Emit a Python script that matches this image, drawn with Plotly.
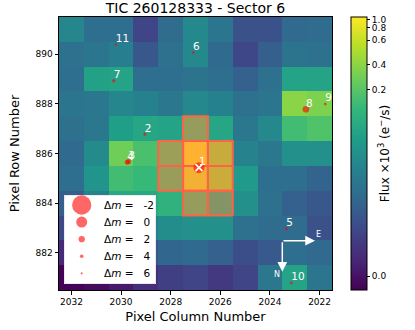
import numpy as np
import plotly.graph_objects as go

# ---------------- data ----------------
TITLE = "TIC 260128333 - Sector 6"
COLS = [2032, 2031, 2030, 2029, 2028, 2027, 2026, 2025, 2024, 2023, 2022]
ROWS = [891, 890, 889, 888, 887, 886, 885, 884, 883, 882, 881]

# median flux per pixel in e-/s (rows top->bottom, columns left->right)
FLUX = [
    [22.8, 10.0, 10.0, 2.4, 9.1, 24.7, 12.8, 3.7, 3.7, 8.4, 9.1],
    [10.9, 12.8, 17.8, 4.5, 10.9, 24.7, 8.4, 2.7, 5.9, 11.8, 10.9],
    [10.0, 54.8, 59.3, 10.0, 10.0, 11.8, 10.0, 6.4, 10.9, 59.3, 59.3],
    [12.8, 13.9, 22.8, 19.4, 13.9, 24.7, 19.4, 10.9, 12.8, 382.0, 328.0],
    [10.9, 13.9, 50.6, 64.1, 59.3, 177.0, 64.1, 13.9, 24.7, 140.0, 177.0],
    [8.4, 26.8, 282.0, 164.0, 208.0, 1070.0, 467.0, 21.0, 13.9, 31.4, 31.4],
    [10.0, 36.9, 140.0, 120.0, 192.0, 860.0, 489.0, 43.2, 10.0, 10.0, 7.0],
    [5.9, 21.0, 69.4, 69.4, 95.0, 177.0, 111.0, 31.4, 10.9, 6.4, 4.5],
    [2.7, 5.9, 13.9, 17.8, 29.0, 31.4, 31.4, 10.9, 9.1, 9.1, 3.7],
    [0.7, 1.2, 2.2, 4.5, 7.7, 8.4, 6.4, 3.3, 4.9, 10.0, 8.4],
    [-0.3, -0.15, 0.16, 0.84, 1.9, 2.4, 1.5, 2.4, 13.9, 59.3, 12.8],
]

# aperture pixels (column, row)
AP_COLS = [2027, 2028, 2027, 2026, 2028, 2027, 2026, 2027, 2026]
AP_ROWS = [887, 886, 886, 886, 885, 885, 885, 884, 884]

# Gaia sources
STAR_ID = ["1", "2", "3", "4", "5", "6", "7", "8", "9", "10", "11"]
STAR_COL = [2026.86, 2029.04, 2029.70, 2029.75, 2023.34, 2027.10, 2030.29, 2022.55, 2021.77, 2023.14, 2030.21]
STAR_ROW = [885.43, 886.78, 885.68, 885.65, 882.96, 890.07, 888.93, 887.78, 887.99, 880.79, 890.39]
STAR_DMAG = [0.0, 4.6, 2.8, 2.8, 5.0, 5.0, 4.2, 1.8, 5.0, 4.6, 5.5]

LEGEND_DMAG = [-2, 0, 2, 4, 6]
CB_TICKS = [0.0, 0.2, 0.4, 0.6, 0.8, 1.0]
XTICKS = [2022, 2024, 2026, 2028, 2030, 2032]
YTICKS = [882, 884, 886, 888, 890]

# ---------------- scales ----------------
KNOT_V = np.array([-0.0005, 0.0, 0.2, 0.4, 0.6, 0.8, 1.0, 1.07])
KNOT_F = np.array([-0.0385, 0.051, 0.735, 0.826, 0.915, 0.960, 0.991, 1.0])


def stretch(v):
    v = np.asarray(v, dtype=float)
    return np.interp(np.log1p(1000 * v), np.log1p(1000 * KNOT_V), KNOT_F)


def msize(dm):
    return 11 * 1.75 ** (-np.asarray(dm, dtype=float) / 2)


flux3 = np.array(FLUX) / 1000.0
z = stretch(flux3)

FONT = "DejaVu Sans"
W, H = 415, 330
ML, MR, MT, MB = 59, 83, 17, 40
PW, PH = W - ML - MR, H - MT - MB


def px(xp):
    return (xp - ML) / PW


def py(yp):
    return (H - MB - yp) / PH


fig = go.Figure()

fig.add_trace(go.Heatmap(
    x=COLS, y=ROWS, z=z, zmin=0, zmax=1, colorscale="Viridis",
    showscale=True, hoverinfo="skip",
    colorbar=dict(
        x=px(351), xanchor="left", xpad=0,
        y=0.5, yanchor="middle", len=1.0, lenmode="fraction", ypad=0,
        thickness=16, outlinecolor="black", outlinewidth=1,
        tickvals=list(stretch(CB_TICKS)), ticktext=[f"{t:.1f}" for t in CB_TICKS],
        ticks="outside", ticklen=3, tickcolor="black",
        tickfont=dict(family=FONT, size=9, color="black"),
        title=dict(text="Flux ×10<sup>3</sup> (e<sup>−</sup>/s)", side="right",
                   font=dict(family=FONT, size=12, color="black")),
    ),
))

# aperture
for c, r in zip(AP_COLS, AP_ROWS):
    fig.add_trace(go.Scatter(
        x=[c - 0.5, c + 0.5, c + 0.5, c - 0.5, c - 0.5],
        y=[r - 0.5, r - 0.5, r + 0.5, r + 0.5, r - 0.5],
        mode="lines", fill="toself", fillcolor="rgba(255,99,71,0.4)",
        line=dict(color="tomato", width=2), showlegend=False, hoverinfo="skip",
    ))

# stars
fig.add_trace(go.Scatter(
    x=STAR_COL, y=STAR_ROW, mode="markers",
    marker=dict(color="red", opacity=0.6, size=msize(STAR_DMAG), line=dict(width=0)),
    showlegend=False, hoverinfo="skip", cliponaxis=True,
))
# target
fig.add_trace(go.Scatter(
    x=[STAR_COL[0]], y=[STAR_ROW[0]], mode="markers",
    marker=dict(symbol="x-thin", size=7, line=dict(color="white", width=1.6)),
    showlegend=False, hoverinfo="skip",
))
# labels
fig.add_trace(go.Scatter(
    x=STAR_COL, y=STAR_ROW, mode="text", text=STAR_ID,
    textposition="top right", textfont=dict(family=FONT, size=10.5, color="white"),
    showlegend=False, hoverinfo="skip", cliponaxis=True,
))

# ---------------- legend (drawn on its own small axes) ----------------
LX0, LX1, LY0, LY1 = 64, 156, 195, 284
rad_x, rad_y = 3 / (LX1 - LX0), 3 / (LY1 - LY0)
ang = np.linspace(0, np.pi / 2, 6)
bx, by = [], []
for cx, cy, a0 in [(1 - rad_x, 1 - rad_y, 0), (rad_x, 1 - rad_y, np.pi / 2),
                   (rad_x, rad_y, np.pi), (1 - rad_x, rad_y, 1.5 * np.pi)]:
    bx += list(cx + rad_x * np.cos(a0 + ang))
    by += list(cy + rad_y * np.sin(a0 + ang))
bx.append(bx[0]); by.append(by[0])
fig.add_trace(go.Scatter(
    x=bx, y=by, xaxis="x2", yaxis="y2", mode="lines", fill="toself",
    fillcolor="rgba(255,255,255,0.8)", line=dict(color="rgba(204,204,204,0.8)", width=1),
    showlegend=False, hoverinfo="skip",
))
n = len(LEGEND_DMAG)
entry_y = [1 - (10 + 17.1 * k) / (LY1 - LY0) for k in range(n)]
fig.add_trace(go.Scatter(
    x=[(81.7 - LX0) / (LX1 - LX0)] * n, y=entry_y, xaxis="x2", yaxis="y2", mode="markers",
    marker=dict(color="red", opacity=0.6, size=msize(LEGEND_DMAG), line=dict(width=0)),
    showlegend=False, hoverinfo="skip",
))
for dm, yy in zip(LEGEND_DMAG, entry_y):
    fig.add_annotation(x=(101.5 - LX0) / (LX1 - LX0), y=yy, xref="x2", yref="y2",
                       text=f"Δ<i>m</i> =\u00a0\u00a0\u00a0{dm}", showarrow=False,
                       xanchor="left", yanchor="middle",
                       font=dict(family=FONT, size=10.5, color="black"))

# compass
for (hx, hy, ax, ay) in [(px(315), py(240.7), -33, 0), (px(282.3), py(271.7), 0, -31)]:
    fig.add_annotation(x=hx, y=hy, xref="paper", yref="paper", ax=ax, ay=ay,
                       axref="pixel", ayref="pixel", showarrow=True, arrowhead=2,
                       arrowsize=1.3, arrowwidth=1.5, arrowcolor="white", text="")
fig.add_annotation(x=px(323), y=py(240.7), xref="paper", yref="paper",
                   text="E", showarrow=False, font=dict(family=FONT, size=8, color="white"))
fig.add_annotation(x=px(282), y=py(280.5), xref="paper", yref="paper",
                   text="N", showarrow=False, font=dict(family=FONT, size=8, color="white"))

fig.update_layout(
    width=W, height=H,
    margin=dict(l=ML, r=MR, t=MT, b=MB, autoexpand=False),
    paper_bgcolor="white", plot_bgcolor="white",
    font=dict(family=FONT, color="black"),
    title=dict(text=TITLE, x=0.5, xref="paper", xanchor="center",
               y=1 - 8.5 / H, yref="container", yanchor="middle",
               font=dict(family=FONT, size=14, color="black")),
    showlegend=False,
    xaxis2=dict(domain=[px(LX0), px(LX1)], anchor="y2", range=[0, 1], visible=False,
                fixedrange=True),
    yaxis2=dict(domain=[py(LY1), py(LY0)], anchor="x2", range=[0, 1], visible=False,
                fixedrange=True),
)
fig.layout.xaxis.update(range=[2032.5, 2021.5], tickvals=XTICKS, ticks="outside", ticklen=3.5,
                        tickcolor="black", tickfont=dict(family=FONT, size=9, color="black"),
                        showline=True, mirror=True, linecolor="black", linewidth=1,
                        showgrid=False, zeroline=False, domain=[0, 1],
                        title=dict(text="Pixel Column Number", standoff=5,
                                   font=dict(family=FONT, size=13, color="black")))
fig.layout.yaxis.update(range=[880.5, 891.5], tickvals=YTICKS, ticks="outside", ticklen=3.5,
                        tickcolor="black", tickfont=dict(family=FONT, size=9, color="black"),
                        showline=True, mirror=True, linecolor="black", linewidth=1,
                        showgrid=False, zeroline=False, domain=[0, 1],
                        title=dict(text="Pixel Row Number", standoff=12,
                                   font=dict(family=FONT, size=13, color="black")))

fig.write_html("out.html",
               config={"displayModeBar": False, "staticPlot": True},
               post_script="document.body.style.margin='0';document.body.style.padding='0';"
                           "document.body.style.overflow='hidden';")
